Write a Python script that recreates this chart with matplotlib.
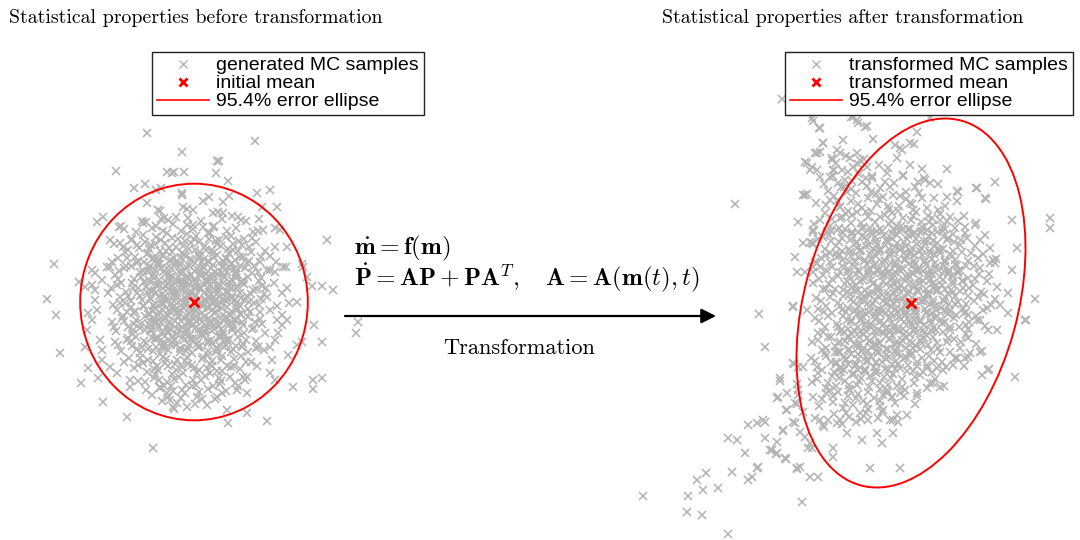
import numpy as np
import matplotlib
matplotlib.use("Agg")
import matplotlib.pyplot as plt
from matplotlib.patches import Ellipse
from matplotlib.lines import Line2D

plt.rcParams['mathtext.fontset'] = 'cm'

# ---------------- data (image-like units, y grows downward) ----------
left_mean = (194, 302)
left_cov = [[3238.0, 0.0], [0.0, 3499.0]]
right_mean = (911, 303)
right_cov = [[3278.0, -1575.0], [-1575.0, 8510.0]]

left_core = [
 (124,229),(136,232),(146,222),(152,228),(161,219),(167,233),(173,224),(181,231),(188,218),(193,229),(201,221),(208,233),
 (214,226),(222,219),(227,231),(236,228),(246,221),(258,231),
 (114,244),(125,252),(132,239),(139,248),(145,242),(148,253),(151,245),(156,237),(160,251),(165,243),(169,248),
 (172,238),(176,247),(182,253),(185,241),(189,249),(191,243),(196,236),(200,252),(205,246),(209,239),
 (212,250),(216,241),(221,246),(226,237),(229,253),(233,244),(238,251),(244,239),(249,247),(256,242),(265,251),(275,247),
 (112,262),(119,271),(127,258),(131,266),(135,257),(140,272),(144,262),(149,268),(152,259),(155,270),(160,264),(163,256),
 (166,273),(169,261),(171,268),(174,258),(179,263),(183,272),(186,256),(189,266),(192,260),(195,271),(199,257),(203,266),
 (206,274),(209,262),(211,268),(214,257),(219,263),(222,273),(226,259),(229,267),(232,263),(236,272),(240,257),(245,268),
 (249,261),(254,266),(261,257),(267,270),(276,262),
 (111,288),(118,279),(126,292),(132,283),(137,293),(141,277),(146,287),(149,280),(151,291),(154,278),(158,285),(162,294),
 (165,281),(168,289),(170,277),(173,286),(177,293),(180,281),(184,289),(187,276),(189,284),(191,292),(194,280),(197,287),
 (201,276),(204,293),(207,283),(209,289),(212,279),(215,290),(219,284),(223,276),(226,292),(229,282),(232,288),(236,278),
 (240,293),(244,284),(248,277),(253,290),(259,281),(266,288),(274,283),
 (113,305),(120,297),(127,312),(131,301),(135,311),(140,296),(144,306),(148,314),(151,299),(155,308),(158,315),(162,302),
 (165,296),(169,310),(171,304),(174,297),(178,312),(181,300),(184,308),(187,296),(189,314),(192,309),(195,297),(199,304),
 (202,313),(205,299),(207,307),(209,296),(212,303),(216,312),(219,297),(222,308),(226,301),(229,314),(232,298),(236,307),
 (240,314),(244,300),(248,309),(254,303),(260,312),(267,297),(277,306),
 (112,322),(116,331),(122,318),(128,327),(132,334),(136,320),(140,328),(145,316),(149,324),(151,331),(154,319),(158,326),
 (162,334),(165,317),(169,323),(171,330),(175,321),(178,316),(182,327),(186,334),(189,320),(192,326),(195,317),(199,333),
 (202,322),(206,329),(209,318),(212,331),(215,320),(219,326),(223,334),(226,317),(229,324),(234,320),(238,331),(243,325),
 (248,317),(254,328),(260,319),(265,333),
 (115,342),(121,351),(128,338),(132,346),(136,337),(140,353),(144,341),(148,349),(152,338),(156,347),(160,354),(164,342),
 (168,350),(172,337),(176,345),(180,352),(184,340),(188,348),(192,353),(196,339),(200,346),(204,336),(208,351),(212,343),
 (216,352),(220,338),(224,347),(228,341),(233,349),(238,337),(243,344),(248,352),(256,341),(264,350),
 (124,362),(134,368),(140,358),(147,372),(153,361),(158,370),(163,357),(168,366),(172,374),(177,360),(182,367),(187,357),
 (192,365),(197,373),(202,359),(207,368),(212,361),(217,371),(222,356),(227,366),(234,359),(240,369),(246,362),(257,366),
 (138,381),(146,390),(154,378),(160,388),(167,382),(173,391),(179,377),(186,385),(193,380),(199,392),(205,376),(213,386),
 (219,378),(226,391),(235,383),(243,377),
 (162,401),(174,409),(181,398),(195,404),(215,399),
]

left_core_b = [
 (131,240),(143,235),(155,244),(163,231),(178,239),(187,234),(199,242),(210,233),(219,240),(231,236),(242,245),(252,238),
 (118,258),(128,250),(138,261),(147,254),(157,258),(166,251),(176,262),(184,255),(195,250),(204,259),(213,253),(224,262),
 (233,250),(243,257),(251,252),(260,262),(270,256),
 (115,275),(124,268),(134,279),(143,271),(152,276),(161,268),(170,280),(179,272),(188,278),(197,269),(206,281),(215,272),
 (225,277),(234,269),(243,280),(252,273),(261,278),(270,270),
 (108,293),(117,285),(128,296),(138,288),(147,292),(156,285),(164,297),(173,290),(182,284),(190,295),(200,289),(209,297),
 (217,286),(228,293),(238,287),(247,296),(256,289),(264,294),
 (117,310),(125,303),(134,313),(143,306),(152,311),(161,304),(168,315),(177,308),(186,302),(194,313),(203,306),(212,310),
 (221,303),(231,315),(240,306),(250,312),(259,305),(270,310),
 (114,327),(124,321),(133,330),(142,323),(151,329),(159,320),(168,331),(178,324),(187,329),(196,321),(205,332),(214,325),
 (223,320),(232,330),(242,322),(252,329),(262,324),
 (118,345),(127,340),(137,349),(146,343),(155,339),(163,348),(172,342),(181,349),(190,339),(199,347),(208,341),(217,349),
 (226,340),(236,346),(246,340),(256,348),
 (129,358),(138,365),(148,360),(157,366),(166,359),(175,364),(185,361),(194,368),(203,357),(212,366),(221,360),(231,367),
 (241,356),(251,362),
 (145,382),(155,374),(164,386),(174,379),(183,373),(192,386),(201,380),(210,373),(220,384),(230,377),(238,386),
 (168,397),(185,393),(202,399),(222,393),
 (165,300),(175,292),(185,318),(195,288),(205,325),(215,300),(180,330),(170,312),(200,275),(225,318),(158,338),(190,335),
 (210,285),(220,335),(235,300),(150,320),(197,302),(183,282),
]

left_core_c = [
 (137,245),(149,249),(161,240),(172,252),(183,246),(194,239),(206,250),(217,244),(228,249),(239,241),
 (126,266),(137,263),(148,271),(158,262),(169,274),(180,265),(191,275),(202,262),(213,276),(224,266),(236,274),(247,263),
 (258,272),
 (121,283),(133,288),(144,282),(155,293),(166,286),(176,280),(186,291),(196,283),(207,279),(218,292),(229,286),(241,282),
 (251,294),(262,286),
 (120,303),(131,307),(142,300),(153,305),(163,310),(174,301),(185,305),(196,310),(206,301),(217,306),(227,298),(238,309),
 (249,302),(261,299),
 (123,316),(134,324),(145,330),(156,322),(166,327),(177,334),(188,323),(199,329),(210,322),(221,329),(233,324),(244,333),
 (255,322),
 (131,341),(142,347),(153,351),(164,345),(175,340),(186,351),(197,344),(208,355),(219,345),(231,352),(242,347),
 (143,363),(154,369),(165,363),(176,370),(188,364),(199,370),(210,364),(222,371),(234,366),
 (159,380),(171,386),(182,390),(196,385),(208,389),(221,381),
]

left_inner = [
 (154,258),(163,255),(171,260),(181,257),(190,259),(199,256),(208,261),(217,255),(226,258),(235,260),
 (150,266),(158,264),(167,268),(176,265),(186,267),(195,263),(204,268),(213,265),(222,267),(231,264),(240,266),
 (154,274),(163,272),(172,276),(181,273),(191,275),(200,271),(209,276),(218,274),(227,272),(236,275),
 (150,282),(159,280),(168,284),(177,281),(186,283),(195,279),(204,284),(214,281),(223,283),(232,280),(241,282),
 (154,290),(163,288),(172,292),(181,289),(190,291),(200,287),(209,292),(218,289),(227,291),(236,288),
 (150,298),(159,296),(168,300),(177,297),(186,299),(196,295),(205,300),(214,297),(223,299),(232,296),(241,298),
 (154,306),(163,304),(172,308),(181,305),(190,307),(200,303),(209,308),(218,305),(227,307),(236,304),
 (150,314),(159,312),(168,316),(177,313),(186,315),(196,311),(205,316),(214,313),(223,315),(232,312),(241,314),
 (154,322),(163,320),(172,324),(181,321),(190,323),(200,319),(209,324),(218,321),(227,323),(236,320),
 (150,330),(159,328),(168,332),(177,329),(186,331),(196,327),(205,332),(214,329),(223,331),(232,328),
 (156,338),(165,336),(174,340),(183,337),(192,339),(202,335),(211,340),(220,337),(229,339),
 (162,346),(171,344),(180,348),(189,345),(198,347),(208,343),(217,348),(226,345),
]

left_outer = [
 (147,133),(255,141),(182,152),(217,161),(219,161),(116,171),(167,172),(172,173),(174,172),(184,172),(216,173),(228,181),
 (134,188),(145,184),(156,190),(161,188),(182,193),(182,195),(203,201),(209,197),(223,202),(229,196),(257,193),(270,190),
 (147,203),(158,210),(160,211),(183,207),(187,209),(193,210),(213,213),(218,212),(223,213),(232,216),(238,217),(241,220),
 (262,207),(277,207),(97,222),(103,217),(119,227),(121,226),(143,223),(142,221),(156,226),(164,218),(168,220),(176,217),
 (187,225),(193,225),(203,227),(213,227),(259,219),(253,232),(263,230),(275,228),(280,230),(327,240),(54,264),(47,299),
 (56,315),(60,353),(81,383),(88,368),(103,402),(127,417),(153,448),(228,423),(267,421),(247,413),(293,387),(313,389),
 (313,380),(322,378),(322,342),(314,325),(333,290),(322,286),(312,286),(358,322),(356,333),(303,267),(307,277),(286,267),
 (275,272),(287,247),(297,302),(289,303),(282,293),(287,288),(287,320),(282,325),(278,333),(275,340),(258,347),(270,347),
 (288,355),(272,360),(275,380),(270,373),(247,377),(245,380),(247,393),(237,390),(227,410),(217,397),(207,405),(197,397),
 (187,407),(177,403),(170,400),(173,407),(167,393),(160,387),(152,395),(130,387),(130,380),(117,373),(110,367),(98,378),
 (102,360),(100,340),(102,350),(87,330),(85,347),(92,320),(88,313),(97,310),(95,300),(85,287),(92,285),(92,270),(95,273),
 (102,280),(107,267),(110,267),(110,240),(120,243),(123,247),(302,342),(297,345),(282,315),(277,320),(79,282),(302,264),
 (283,267),(95,290),
]

right_core = [
 (836,163),(846,156),(853,167),(864,159),(879,165),(897,158),
 (824,184),(833,176),(841,187),(848,172),(852,181),(859,174),(867,186),(872,178),(880,188),(887,173),(894,183),(903,176),
 (915,187),(924,178),(938,184),
 (816,203),(834,196),(840,207),(847,192),(851,201),(856,193),(862,208),(868,198),(871,192),(877,204),(883,197),(889,209),
 (893,195),(899,206),(906,199),(912,204),(919,193),(927,208),(934,198),(945,206),(957,201),
 (814,224),(825,213),(832,219),(839,228),(846,214),(851,223),(857,212),(863,227),(868,217),(871,211),(875,222),(880,229),
 (885,215),(889,224),(892,213),(897,226),(903,218),(908,229),(911,220),(916,212),(922,227),(928,216),(933,225),(940,214),
 (947,221),(955,228),(964,216),(976,223),
 (813,244),(822,236),(831,231),(836,246),(842,238),(849,249),(852,234),(856,243),(861,250),(865,237),(869,245),(871,232),
 (876,241),(880,249),(884,235),(888,243),(891,238),(895,247),(899,231),(904,242),(908,235),(912,248),(916,239),(920,232),
 (925,244),(929,236),(933,241),(937,232),(943,249),(948,238),(953,234),(960,245),(967,238),(975,246),(985,235),
 (815,262),(826,255),(832,267),(836,253),(843,260),(848,269),(851,256),(855,266),(860,251),(864,261),(869,269),(871,258),
 (874,266),(878,252),(882,262),(886,269),(889,255),(891,263),(894,252),(898,259),(902,268),(906,256),(909,264),(911,252),
 (914,261),(918,269),(922,255),(926,264),(929,251),(932,259),(936,267),(940,253),(945,262),(949,270),(952,256),(957,265),
 (962,252),(968,261),(974,266),(983,254),(996,259),
 (813,283),(823,275),(832,279),(835,289),(840,272),(845,284),(849,276),(852,287),(856,274),(860,281),(865,290),(868,271),
 (871,280),(874,273),(878,288),(882,276),(886,284),(889,271),(891,286),(894,275),(897,282),(901,271),(904,289),(907,278),
 (909,284),(912,273),(915,286),(919,279),(923,271),(926,289),(929,281),(932,274),(936,285),(940,277),(945,289),(948,272),
 (953,281),(958,273),(963,288),(968,278),(973,285),(979,274),(987,281),(997,287),
 (816,298),(826,306),(833,293),(838,303),(843,296),(848,308),(851,299),(855,291),(859,306),(864,296),(868,303),(871,292),
 (875,300),(878,309),(882,295),(886,304),(889,297),(891,307),(894,293),(897,301),(901,309),(904,296),(906,303),(909,291),
 (912,298),(915,307),(918,292),(921,301),(925,309),(928,295),(930,304),(933,300),(937,291),(941,308),(945,297),(949,304),
 (953,292),(958,302),(963,309),(968,296),(974,301),(981,292),(987,308),(995,299),
 (815,318),(825,327),(832,313),(837,324),(843,316),(848,329),(851,320),(854,311),(858,327),(862,316),(866,323),(869,312),
 (871,327),(875,315),(879,322),(883,311),(886,329),(889,318),(891,313),(895,325),(899,317),(903,329),(906,311),(909,321),
 (912,326),(916,314),(919,321),(923,330),(927,312),(930,320),(933,328),(937,316),(942,323),(946,312),(950,327),(954,318),
 (959,327),(964,313),(969,322),(976,316),(985,326),
 (812,342),(818,333),(826,348),(831,337),(835,346),(840,332),(845,341),(849,349),(852,334),(855,344),(859,337),(863,349),
 (866,331),(869,341),(871,347),(875,336),(879,343),(882,332),(886,349),(889,339),(892,335),(895,345),(899,331),(902,340),
 (906,348),(909,334),(912,343),(916,333),(920,349),(924,338),(928,345),(933,337),(938,348),(943,332),(947,342),(954,339),
 (960,348),(966,334),(976,344),
 (811,358),(817,367),(825,353),(831,362),(835,352),(840,368),(844,357),(848,364),(851,354),(855,366),(858,359),(862,351),
 (865,369),(868,361),(871,356),(874,367),(878,352),(882,362),(885,369),(889,357),(892,364),(896,353),(900,368),(904,358),
 (908,365),(912,354),(917,366),(922,358),(927,368),(934,361),(940,352),(946,367),(955,358),(964,366),
 (812,382),(818,373),(826,388),(832,376),(836,386),(841,372),(845,381),(849,389),(852,374),(857,385),(861,378),(865,371),
 (869,387),(872,381),(876,373),(880,389),(884,377),(888,385),(893,374),(897,386),(902,379),(907,371),(914,383),(920,375),
 (927,388),(935,379),(944,386),
 (813,397),(819,406),(826,393),(833,402),(838,392),(843,408),(848,396),(853,405),(858,394),(863,401),(868,409),(874,398),
 (880,406),(887,393),(895,403),(904,396),(915,404),
 (815,418),(824,427),(834,414),(842,424),(849,417),(856,422),(866,413),(878,418),
]

right_core_b = [
 (842,170),(858,164),(872,176),(888,168),
 (828,191),(838,183),(851,189),(862,182),(876,194),(890,187),(906,192),(918,182),
 (826,205),(837,201),(848,211),(858,204),(866,212),(879,199),(888,206),(898,211),(910,203),(922,198),(938,210),
 (820,220),(830,226),(840,218),(852,215),(861,223),(870,228),(880,217),(891,221),(901,226),(913,216),(921,222),(932,218),
 (943,227),(958,221),
 (818,239),(829,235),(839,242),(850,240),(858,232),(866,246),(875,237),(886,240),(897,235),(906,246),(915,233),(924,241),
 (934,246),(944,236),(954,242),(965,233),(980,240),
 (821,258),(830,262),(840,255),(849,262),(858,257),(867,264),(876,256),(885,261),(895,266),(905,260),(914,255),(924,262),
 (934,254),(944,266),(955,260),(966,266),(978,258),(990,263),
 (819,279),(829,284),(838,276),(847,281),(856,285),(864,277),(873,283),(882,272),(892,279),(901,285),(910,277),(920,283),
 (931,279),(942,285),(952,276),(962,281),(975,279),(989,274),
 (821,301),(830,297),(840,306),(850,294),(860,300),(869,307),(878,296),(887,302),(896,297),(906,306),(916,301),(926,294),
 (935,306),(944,301),(955,296),(966,304),(978,297),(991,305),
 (819,321),(828,316),(838,327),(847,320),(857,314),(866,327),(875,319),(884,324),(894,316),(904,322),(914,319),(924,325),
 (935,318),(945,322),(956,315),(966,325),(980,320),
 (818,340),(828,337),(838,343),(848,336),(857,345),(867,338),(876,344),(886,336),(896,342),(906,338),(916,346),(926,335),
 (937,343),(948,338),(961,342),
 (815,361),(826,356),(836,364),(846,359),(856,364),(866,357),(876,362),(886,355),(896,361),(906,357),(917,362),(929,356),
 (942,362),
 (817,379),(828,383),(839,378),(849,385),(859,381),(870,376),(880,383),(891,378),(902,387),(915,377),(930,383),
 (822,399),(833,396),(845,403),(856,398),(867,404),(880,401),(892,397),
 (828,420),(846,413),(861,419),
 (895,290),(905,315),(925,300),(880,310),(915,270),(890,330),(935,290),(870,295),(900,250),(920,340),(860,320),(945,310),
 (885,275),(910,355),(875,345),(930,270),
]

right_core_c = [
 (845,180),(866,178),(885,182),(900,196),(913,210),(929,222),
 (827,232),(845,229),(862,236),(877,231),(893,229),(910,229),(927,230),(945,229),(961,240),
 (825,249),(842,251),(857,248),(873,249),(889,249),(905,252),(921,248),(938,249),(953,251),(971,253),
 (826,270),(842,266),(859,272),(877,270),(895,272),(912,266),(928,276),(944,271),(960,270),(980,268),
 (826,289),(843,290),(861,294),(879,287),(899,288),(917,290),(934,287),(951,290),(969,288),(984,294),
 (824,312),(842,310),(861,312),(879,313),(897,312),(914,311),(932,313),(950,311),(966,312),(983,310),
 (823,332),(841,330),(860,332),(878,330),(897,330),(915,328),(932,331),(950,330),(968,329),
 (822,350),(840,352),(858,348),(877,350),(896,350),(913,348),(931,350),(950,352),
 (822,370),(841,368),(858,370),(876,370),(895,369),(913,371),(932,372),
 (830,390),(850,390),(868,392),(887,390),(905,390),
]

right_inner = [
 (852,232),(862,229),(872,234),(882,231),(892,233),(902,230),(912,234),(922,231),(932,233),(942,230),
 (857,242),(867,240),(877,244),(887,241),(897,243),(907,239),(917,244),(927,241),(937,243),(947,240),
 (850,252),(860,250),(870,254),(880,251),(890,253),(900,249),(910,254),(920,251),(930,253),(940,250),(950,254),
 (855,262),(865,260),(875,264),(885,261),(895,263),(905,259),(915,264),(925,261),(935,263),(945,260),(955,264),
 (848,272),(858,270),(868,274),(878,271),(888,273),(898,269),(908,274),(918,271),(928,273),(938,270),(948,274),(958,271),
 (853,282),(863,280),(873,284),(883,281),(893,283),(903,279),(913,284),(923,281),(933,283),(943,280),(953,284),(963,281),
 (848,292),(858,290),(868,294),(878,291),(888,293),(898,289),(908,294),(918,291),(928,293),(938,290),(948,294),(960,291),
 (853,302),(863,300),(873,304),(883,301),(893,303),(903,299),(913,304),(923,301),(933,303),(943,300),(955,304),
 (846,312),(856,310),(866,314),(876,311),(886,313),(896,309),(906,314),(916,311),(926,313),(936,310),(948,314),
 (851,322),(861,320),(871,324),(881,321),(891,323),(901,319),(911,324),(921,321),(931,323),(941,320),
 (844,332),(854,330),(864,334),(874,331),(884,333),(894,329),(904,334),(914,331),(924,333),(936,330),
 (840,342),(850,340),(860,344),(870,341),(880,343),(890,339),(900,344),(910,341),(922,343),
 (838,352),(848,350),(858,354),(868,351),(878,353),(888,349),(898,354),(910,351),
 (836,362),(846,360),(856,364),(866,361),(876,363),(886,359),(898,364),
 (834,372),(844,370),(854,374),(864,371),(876,373),(888,370),
]

right_outer = [
 (782,99),(812,118),(853,117),(930,118),(813,121),(820,128),(851,117),(857,120),(867,126),(873,139),(917,132),(900,148),
 (910,143),(914,144),(823,143),(820,152),(817,153),(837,150),(840,153),(832,158),(850,158),(857,153),(807,163),(812,167),
 (820,177),(817,170),(833,170),(830,177),(860,160),(867,167),(805,195),(803,195),(844,187),(735,204),(798,222),(795,257),
 (759,314),(765,347),(793,307),(807,310),(818,309),(823,289),(805,272),(813,267),(803,243),(810,242),(813,232),(820,267),
 (831,241),(947,169),(922,169),(903,175),(995,182),(977,188),(986,199),(958,192),(947,197),(1012,220),(1050,218),
 (1050,228),(990,248),(1017,248),(1012,270),(993,260),(995,263),(1035,299),(1025,320),(1008,293),(1000,305),(1008,313),
 (988,330),(997,330),(980,352),(968,357),(970,353),(982,375),(988,370),(1015,377),(933,383),(940,387),(917,393),
 (917,396),(900,468),(870,468),(802,502),(797,468),(800,467),(810,477),(818,477),(643,496),(688,496),(687,512),(702,515),
 (728,534),(697,480),(706,473),(703,490),(718,488),(732,472),(748,480),(752,477),(757,468),(758,467),(728,438),(737,440),
 (745,453),(748,425),(757,423),(763,420),(765,422),(765,438),(772,450),(777,453),(785,458),(778,397),(777,398),(780,378),
 (787,393),(787,410),(783,430),(793,422),(795,403),(798,390),(793,363),(798,367),(800,432),(805,437),(808,448),(797,469),
 (833,457),(833,448),(847,433),(862,440),(877,433),(882,443),(893,433),(883,410),(897,415),(907,415),(893,420),(860,413),
 (868,420),(840,420),(837,423),(820,420),(823,425),(794,364),(803,367),(780,381),(797,384),(798,395),(786,410),(797,404),
 (803,412),(795,423),(783,431),(777,442),(770,450),(776,454),(786,459),(810,443),(812,448),(1026,320),(989,369),(977,320),
 (968,315),(968,338),(965,358),(982,351),(898,422),(890,420),(882,412),(883,395),(892,397),(900,393),(953,365),(957,358),
 (943,370),(937,368),(923,372),(927,365),(858,123),(865,127),(902,150),(895,145),(843,140),(910,165),(976,188),(985,198),
 (957,191),(975,225),(965,227),(950,217),(940,220),(930,183),(925,180),(819,128),(823,143),(815,153),(805,162),(810,170),
 (832,160),(834,170),(807,194),(830,200),(840,207),(842,217),(837,230),(843,233),(813,230),(823,237),(812,243),(830,253),
 (837,257),(797,272),(817,263),(813,272),(793,306),
]

title_left = "Statistical properties before transformation"
title_right = "Statistical properties after transformation"
legend_left = ["generated MC samples", "initial mean", "95.4% error ellipse"]
legend_right = ["transformed MC samples", "transformed mean", "95.4% error ellipse"]
eq_line1 = r"$\dot{\mathbf{m}} = \mathbf{f}(\mathbf{m})$"
eq_line2 = r"$\dot{\mathbf{P}} = \mathbf{A}\mathbf{P} + \mathbf{P}\mathbf{A}^{T},\quad \mathbf{A} = \mathbf{A}(\mathbf{m}(t),t)$"
arrow_label = "Transformation"

# ---------------- drawing ----------------
GRAY = '#b3b3b3'
fig = plt.figure(figsize=(10.8, 5.4), dpi=100)
ax = fig.add_axes([0, 0, 1, 1])
ax.set_xlim(0, 1080)
ax.set_ylim(540, 0)
ax.axis('off')


def error_ellipse(mean, cov, nsig=2.0):
    vals, vecs = np.linalg.eigh(np.array(cov))
    order = vals.argsort()[::-1]
    vals, vecs = vals[order], vecs[:, order]
    angle = np.degrees(np.arctan2(vecs[1, 0], vecs[0, 0]))
    w, h = 2 * nsig * np.sqrt(vals)
    return Ellipse(mean, w, h, angle=angle, fill=False, edgecolor='red', lw=1.4, zorder=3)


panels = [(left_core + left_core_b + left_core_c + left_inner + left_outer, left_mean, left_cov),
          (right_core + right_core_b + right_core_c + right_inner + right_outer, right_mean, right_cov)]
for samples, mean, cov in panels:
    xs, ys = zip(*samples)
    ax.plot(xs, ys, linestyle='none', marker='x', color=GRAY, ms=6, mew=1.15, zorder=2)
    ax.add_patch(error_ellipse(mean, cov))
    ax.plot([mean[0]], [mean[1]], linestyle='none', marker='x', color='red', ms=7, mew=2, zorder=4)

ax.text(9, 18, title_left, family='cmr10', fontsize=14.3, va='center', ha='left')
ax.text(662, 18, title_right, family='cmr10', fontsize=14.3, va='center', ha='left')

ax.text(354, 248, eq_line1, fontsize=18, va='center', ha='left')
ax.text(354, 278, eq_line2, fontsize=18, va='center', ha='left')
ax.annotate('', xy=(716, 316), xytext=(345, 316),
            arrowprops=dict(arrowstyle='-|>', lw=1.6, color='black', mutation_scale=22,
                            shrinkA=0, shrinkB=0))
ax.text(519, 348, arrow_label, family='cmr10', fontsize=16.1, va='center', ha='center')


def make_handles(labels):
    return [Line2D([], [], linestyle='none', marker='x', color=GRAY, ms=6, mew=1.0, label=labels[0]),
            Line2D([], [], linestyle='none', marker='x', color='red', ms=6, mew=2, label=labels[1]),
            Line2D([], [], color='red', lw=1.2, label=labels[2])]


legs = []
for labels, xleft in [(legend_left, 152), (legend_right, 785)]:
    leg = ax.legend(handles=make_handles(labels), loc='upper left',
                    bbox_to_anchor=(xleft / 1080, 1 - 52 / 540), bbox_transform=ax.transAxes,
                    borderaxespad=0, prop={'family': 'Liberation Sans', 'size': 14},
                    frameon=True, fancybox=False, framealpha=1, edgecolor='#222222',
                    handlelength=2.7, handletextpad=0.35, labelspacing=0.02, borderpad=0.25)
    leg.get_frame().set_linewidth(1.0)
    legs.append(leg)
ax.add_artist(legs[0])

fig.savefig('out.png', dpi=100)
